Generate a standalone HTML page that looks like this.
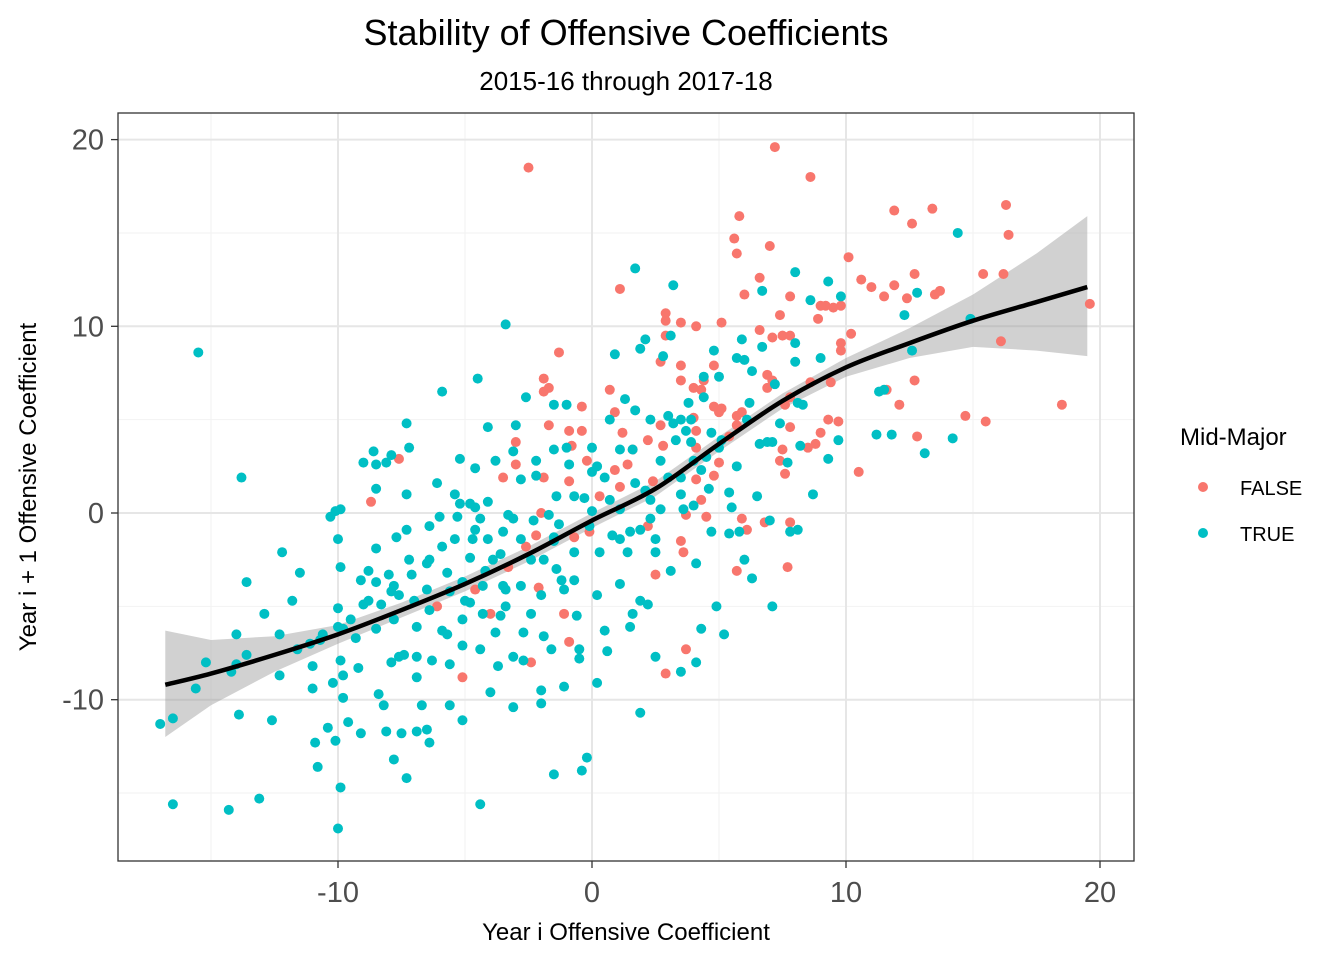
<!DOCTYPE html>
<html><head><meta charset="utf-8"><style>
body{margin:0;background:#fff;font-family:"Liberation Sans",Arial,sans-serif}
</style></head><body>
<svg id="chart" width="1344" height="960" xmlns="http://www.w3.org/2000/svg" font-family="Liberation Sans, Arial, sans-serif">
<rect width="1344" height="960" fill="#fff"/>
<text x="626" y="45" font-size="36" text-anchor="middle" fill="#000">Stability of Offensive Coefficients</text>
<text x="626" y="90" font-size="26" text-anchor="middle" fill="#000">2015-16 through 2017-18</text>
<g id="grid"></g><g id="ribbon"></g><g id="pts"></g><g id="smooth"></g>
<rect x="118" y="113" width="1016" height="748" fill="none" stroke="#333" stroke-width="1.3"/>
<g id="axes"></g>
<text x="626" y="940" font-size="24" text-anchor="middle">Year i Offensive Coefficient</text>
<text transform="translate(36,487) rotate(-90)" font-size="24" text-anchor="middle">Year i + 1 Offensive Coefficient</text>
<g>
<text x="1180" y="445" font-size="24">Mid-Major</text>
<circle cx="1203" cy="487" r="5" fill="#F8766D"/>
<text x="1240" y="495" font-size="20">FALSE</text>
<circle cx="1203" cy="533" r="5" fill="#00BFC4"/>
<text x="1240" y="541" font-size="20">TRUE</text>
</g>
</svg>
<script>
const xTicks=[-10,0,10,20];
const yTicks=[-10,0,10,20];
const xMinor=[-15,-5,5,15];
const yMinor=[-15,-5,5,15];
const redX=[-2.5,7.2,8.6,5.8,5.6,7.0,11.9,13.4,16.3,16.4,12.6,1.1,5.7,6.6,6.0,10.1,10.6,11.0,11.5,11.9,12.7,13.7,13.5,12.4,15.4,16.2,19.6,16.1,18.5,14.7,15.5,12.8,12.1,11.6,12.7,10.5,9.8,9.2,9.5,9.0,10.2,9.8,9.8,8.9,7.4,7.8,7.1,7.5,7.8,6.6,5.1,2.9,2.9,3.5,4.1,2.9,2.7,4.8,4.4,3.5,3.5,4.0,0.7,0.9,-0.4,-1.9,-1.3,-1.9,-1.7,5.0,5.7,5.7,5.9,5.1,7.6,7.8,6.9,7.1,6.9,8.6,9.4,9.3,9.7,8.5,7.8,7.5,7.4,7.6,8.8,9.0,7.8,7.7,5.9,5.7,6.1,6.8,4.3,4.8,4.1,4.1,5.0,4.8,4.1,2.7,2.8,1.6,1.2,2.2,0.9,1.4,2.4,1.1,-0.4,-0.2,-0.9,-1.7,-0.8,-0.9,-1.9,-3.0,-3.0,-3.5,-2.0,0.3,-0.1,-0.7,-2.2,-2.6,3.6,3.5,3.7,4.5,2.5,-2.1,-3.3,-1.1,-0.9,-4.0,-4.6,-2.4,2.9,3.7,-5.1,-6.1,-7.6,-8.7,4.0,2.2,4.3,5.4];
const redY=[18.5,19.6,18.0,15.9,14.7,14.3,16.2,16.3,16.5,14.9,15.5,12.0,13.9,12.6,11.7,13.7,12.5,12.1,11.6,12.2,12.8,11.9,11.7,11.5,12.8,12.8,11.2,9.2,5.8,5.2,4.9,4.1,5.8,6.6,7.1,2.2,11.1,11.1,11.0,11.1,9.6,9.1,8.7,10.4,10.6,11.6,9.4,9.5,9.5,9.8,10.2,10.7,10.3,10.2,10.0,9.5,8.1,7.9,7.1,7.9,7.1,6.7,6.6,5.4,5.7,6.5,8.6,7.2,6.7,5.4,5.2,4.7,5.4,5.6,5.8,6.2,7.4,7.1,6.7,7.0,7.0,5.0,4.9,3.5,4.6,3.4,2.8,2.1,3.7,4.3,-0.5,-2.9,-0.3,-3.1,-0.9,-0.5,6.6,5.7,4.4,3.5,2.7,2.0,1.8,4.7,3.6,3.4,4.3,3.9,2.3,2.6,1.7,1.4,4.4,2.8,4.4,4.7,3.6,1.7,1.9,3.8,2.6,1.9,0.0,0.9,-1.0,-1.3,-1.2,-1.8,-2.1,-1.5,-0.1,-0.2,-3.3,-4.0,-2.9,-5.4,-6.9,-5.4,-4.1,-8.0,-8.6,-7.3,-8.8,-5.0,2.9,0.6,5.1,-0.7,0.7,4.1];
const tealX=[-15.5,-17.0,-16.5,-16.5,-15.6,-15.2,-14.3,-13.9,-13.1,-14.0,-14.0,-14.2,-13.6,-13.6,-13.8,-12.9,-12.6,-12.3,-12.3,-12.2,-11.8,-11.5,-11.6,-11.1,-11.0,-11.0,-10.9,-10.8,-10.6,-10.4,-10.1,-10.2,-10.3,-10.1,-9.9,-10.0,-9.9,-10.0,-10.0,-9.8,-9.9,-9.8,-9.8,-9.9,-10.0,-9.6,-9.1,-9.3,-9.2,-9.0,-9.0,-8.6,-8.5,-8.5,-8.5,-8.8,-8.5,-8.8,-8.5,-8.3,-8.4,-8.2,-8.1,-8.1,-7.9,-8.0,-7.8,-7.8,-7.9,-7.8,-7.6,-7.5,-7.3,-7.4,-7.3,-7.3,-7.2,-7.3,-7.7,-7.6,-7.1,-7.0,-6.9,-6.9,-6.9,-6.9,-6.5,-6.5,-6.4,-6.3,-6.7,-6.5,-6.4,-6.4,-6.0,-6.1,-5.9,-5.9,-5.7,-5.6,-5.7,-5.6,-5.6,-5.3,-5.2,-5.4,-5.2,-5.1,-5.1,-5.1,-5.1,-5.1,-4.8,-4.8,-4.7,-4.8,-4.5,-4.6,-4.6,-4.4,-4.3,-4.3,-4.4,-4.4,-4.1,-4.1,-4.1,-4.2,-3.9,-3.8,-4.0,-3.7,-3.5,-3.5,-3.6,-3.4,-3.4,-3.3,-3.1,-3.1,-3.1,-3.1,-3.0,-2.8,-2.7,-2.7,-2.6,-2.4,-2.4,-2.3,-2.2,-2.0,-2.0,-2.0,-1.9,-1.6,-1.5,-1.5,-1.4,-1.5,-1.4,-1.2,-1.1,-1.1,-1.0,-1.0,-0.9,-0.7,-0.6,-0.5,-0.5,-0.4,-0.2,-0.3,-0.1,0.0,0.0,0.0,0.2,0.2,0.3,0.5,0.6,0.7,0.9,0.8,1.1,1.1,1.3,1.4,1.5,1.5,1.6,1.7,1.7,1.6,1.7,1.9,1.9,1.9,2.1,2.1,2.2,2.3,2.5,2.5,2.5,2.7,2.8,3.0,3.0,3.1,3.2,3.1,3.2,3.3,3.5,3.5,3.6,3.7,3.8,3.9,3.9,4.0,4.0,4.1,4.1,4.3,4.4,4.5,4.6,4.7,4.8,4.7,4.9,5.0,5.0,5.1,5.2,5.4,5.4,5.5,5.7,5.7,5.8,5.9,6.0,6.0,6.1,6.2,6.3,6.3,6.5,6.6,6.7,6.7,6.9,7.0,7.1,7.1,7.2,7.4,7.7,7.8,8.0,8.1,8.0,8.0,8.1,8.2,8.3,8.6,8.7,9.0,9.3,9.3,9.7,9.8,11.3,11.2,11.8,11.5,12.3,12.6,13.1,12.8,14.2,14.4,14.9,4.4,-1.5,0.2,0.5,-0.7,-1.3,-1.7,-2.8,-3.6,-4.6,-5.4,-6.4,-7.2,-7.9,-9.1,-9.5,-10.7,1.9,2.7,3.5,4.3,2.3,1.1,-0.7,-1.9,-3.4,-5.0,-5.9,-2.8,-3.8,-2.2,-1.5,1.1,2.3,3.5,0.7];
const tealY=[8.6,-11.3,-11.0,-15.6,-9.4,-8.0,-15.9,-10.8,-15.3,-8.1,-6.5,-8.5,-7.6,-3.7,1.9,-5.4,-11.1,-6.5,-8.7,-2.1,-4.7,-3.2,-7.3,-7.0,-8.2,-9.4,-12.3,-13.6,-6.5,-11.5,-12.2,-9.1,-0.2,0.1,0.2,-1.4,-2.9,-5.1,-6.1,-6.2,-7.9,-8.7,-9.9,-14.7,-16.9,-11.2,-11.8,-6.7,-8.3,-4.9,2.7,3.3,2.6,1.3,-1.9,-3.1,-3.7,-4.7,-6.2,-4.9,-9.7,-10.3,-11.7,2.7,3.1,-3.3,-3.9,-5.7,-8.0,-13.2,-7.7,-11.8,-14.2,-7.6,-0.9,1.0,3.5,4.8,-1.3,-4.4,-3.3,-4.7,-6.1,-7.7,-8.8,-11.7,-2.7,-4.1,-5.2,-7.9,-10.3,-11.6,-12.3,-0.7,-0.2,1.6,6.5,-1.8,-3.2,-4.2,-6.5,-8.1,-10.3,-0.2,0.5,1.0,2.9,-3.7,-5.7,-7.1,-11.1,-3.7,-2.4,-4.8,-1.4,0.5,7.2,2.4,0.3,-0.3,-3.9,-5.4,-7.3,-15.6,4.6,0.6,-1.4,-3.1,-2.5,-6.4,-9.6,-8.2,-1.0,-3.9,-5.5,-5.0,10.1,-0.1,-0.3,-7.7,-10.4,3.3,4.7,-3.9,-6.4,-7.9,6.2,-2.5,-5.4,-0.4,2.0,-9.5,-10.2,-4.4,-6.6,-7.3,-14.0,5.8,0.9,-1.3,-3.0,-3.6,-4.1,-9.3,5.8,3.5,2.6,-2.1,-5.5,-7.3,-7.8,-13.8,-13.1,0.8,-0.7,3.5,2.2,0.1,-9.1,-4.4,-2.1,-6.3,-7.4,0.7,8.5,-1.2,-3.8,0.2,6.1,-2.1,-1.0,-6.1,-5.4,13.1,5.5,3.4,1.6,8.8,-4.7,-10.7,9.3,1.2,-4.9,-0.3,-2.1,-1.4,-7.7,2.8,8.4,5.2,1.9,-3.1,12.2,9.5,4.8,3.9,1.9,-8.5,0.2,4.4,5.9,5.0,3.8,2.8,0.4,-2.7,-8.0,-6.2,6.2,3.0,1.3,4.3,8.7,-1.0,-5.0,7.3,3.5,3.9,-6.5,-1.1,1.1,0.3,8.3,2.5,-1.0,9.3,8.2,-2.5,5.0,5.9,7.6,-3.5,0.9,3.7,11.9,8.9,3.8,-0.4,-5.0,3.8,6.9,4.8,2.7,-1.0,12.9,-0.9,9.1,8.1,5.9,3.6,5.8,11.4,1.0,8.3,12.4,2.9,3.9,11.6,6.5,4.2,4.2,6.6,10.6,8.7,3.2,11.8,4.0,15.0,10.4,7.3,-1.5,2.5,1.9,0.9,-0.6,-0.1,-1.4,-2.2,-0.9,-1.4,-2.5,-2.5,-4.2,-3.6,-5.7,-6.8,-0.9,0.2,1.0,2.3,0.7,-1.4,-3.6,-2.5,-4.1,-4.7,-6.3,1.8,2.8,2.8,3.4,3.4,5.0,5.0,5.0];
const fitX=[-16.8,-15,-12.5,-10,-7.5,-5,-2.5,0,2.5,5,7.5,10,12.5,15,17.5,19.5];
const fitY=[-9.2,-8.6,-7.6,-6.5,-5.2,-3.8,-2.2,-0.4,1.3,3.7,6.0,7.8,9.1,10.3,11.3,12.1];
const fitUpper=[-6.3,-6.8,-6.6,-6.0,-4.8,-3.4,-1.8,-0.0,1.7,4.1,6.4,8.3,9.9,11.7,13.9,15.9];
const fitLower=[-12.0,-10.3,-8.5,-7.0,-5.6,-4.2,-2.6,-0.8,0.9,3.3,5.6,7.3,8.3,8.9,8.7,8.4];

const X=v=>592+v*25.4, Y=v=>513-v*18.67;
const NS="http://www.w3.org/2000/svg";
function mk(tag,attrs,parent){const e=document.createElementNS(NS,tag);for(const k in attrs)e.setAttribute(k,attrs[k]);parent.appendChild(e);return e;}
const grid=document.getElementById('grid');
mk('rect',{x:118,y:113,width:1016,height:748,fill:'#fff'},grid);
xMinor.forEach(v=>{const l=mk('line',{x1:X(v),x2:X(v),y1:113,y2:861,stroke:'#f2f2f2','stroke-width':1},grid);

});
yMinor.forEach(v=>{const l=mk('line',{x1:118,x2:1134,y1:Y(v),y2:Y(v),stroke:'#f2f2f2','stroke-width':1},grid);

});
xTicks.forEach(v=>{const l=mk('line',{x1:X(v),x2:X(v),y1:113,y2:861,stroke:'#e6e6e6','stroke-width':2},grid);

});
yTicks.forEach(v=>{const l=mk('line',{x1:118,x2:1134,y1:Y(v),y2:Y(v),stroke:'#e6e6e6','stroke-width':2},grid);

});
const axes=document.getElementById('axes');
xTicks.forEach(v=>{mk('line',{x1:X(v),x2:X(v),y1:861,y2:868,stroke:'#333','stroke-width':1.3},axes);
const t=mk('text',{x:X(v),y:902,'font-size':29,'text-anchor':'middle',fill:'#4d4d4d'},axes);t.textContent=v;

});
yTicks.forEach(v=>{mk('line',{x1:111,x2:118,y1:Y(v),y2:Y(v),stroke:'#333','stroke-width':1.3},axes);
const t=mk('text',{x:104,y:Y(v)+10,'font-size':29,'text-anchor':'end',fill:'#4d4d4d'},axes);t.textContent=v;

});
const rib=document.getElementById('ribbon');
let d='M'+fitX.map((x,i)=>X(x)+','+Y(fitUpper[i])).join('L');
for(let i=fitX.length-1;i>=0;i--)d+='L'+X(fitX[i])+','+Y(fitLower[i]);
const rp=mk('path',{d:d+'Z',fill:'#999','fill-opacity':0.45},rib);


const pts=document.getElementById('pts');
redX.forEach((x,i)=>{const c=mk('circle',{cx:X(x),cy:Y(redY[i]),r:5,fill:'#F8766D'},pts);

});
tealX.forEach((x,i)=>{const c=mk('circle',{cx:X(x),cy:Y(tealY[i]),r:5,fill:'#00BFC4'},pts);

});
// smooth curve via Catmull-Rom
const P=fitX.map((x,i)=>[X(x),Y(fitY[i])]);
let s='M'+P[0].join(',');
for(let i=0;i<P.length-1;i++){const p0=P[Math.max(0,i-1)],p1=P[i],p2=P[i+1],p3=P[Math.min(P.length-1,i+2)];
s+='C'+(p1[0]+(p2[0]-p0[0])/6)+','+(p1[1]+(p2[1]-p0[1])/6)+' '+(p2[0]-(p3[0]-p1[0])/6)+','+(p2[1]-(p3[1]-p1[1])/6)+' '+p2[0]+','+p2[1];}
const sl=mk('path',{d:s,fill:'none',stroke:'#000','stroke-width':4.5},document.getElementById('smooth'));


</script>
</body></html>
